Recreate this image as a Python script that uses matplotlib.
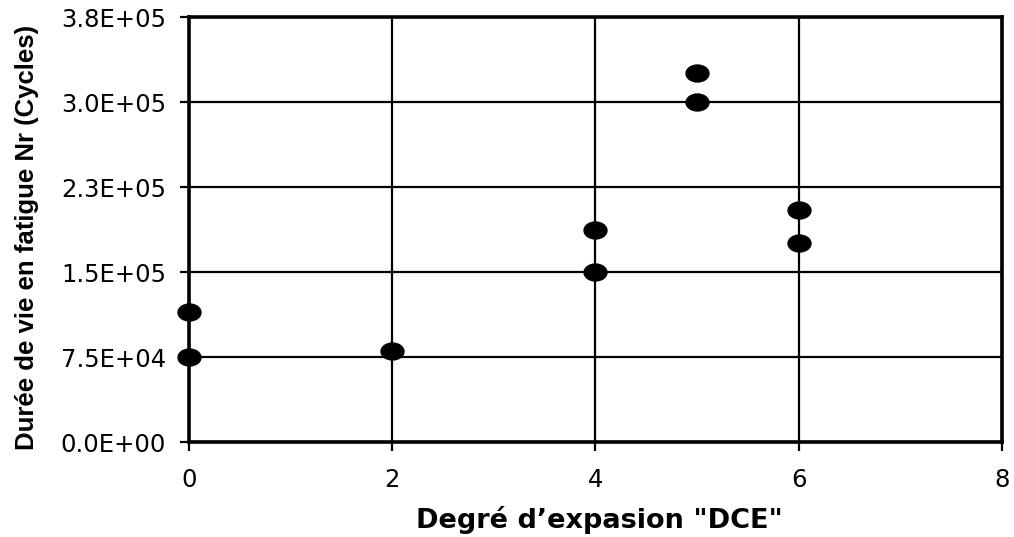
import matplotlib
matplotlib.use("Agg")
import matplotlib.pyplot as plt
from matplotlib.path import Path
from matplotlib.transforms import Affine2D

plt.rcParams['font.family'] = ['DejaVu Sans']

# Fatigue life measurements per expansion degree
dce = [0, 0, 2, 4, 4, 5, 5, 6, 6]
cycles = [115000, 75000, 80000, 187000, 150000, 326000, 300000, 205000, 176000]

x_ticks = [0, 2, 4, 6, 8]
y_ticks = [0, 75000, 150000, 225000, 300000, 375000]
y_tick_labels = ["0.0E+00", "7.5E+04", "1.5E+05", "2.3E+05", "3.0E+05", "3.8E+05"]

W, H = 1014, 537
fig = plt.figure(figsize=(W / 100, H / 100), dpi=100)
ax = fig.add_axes([0.1864, 0.1769, 0.988 - 0.1864, 0.9683 - 0.1769])

# flattened ellipse marker
ellipse = Path.unit_circle().transformed(Affine2D().scale(1.0, 0.74))

ax.scatter(dce, cycles, marker=ellipse, s=16.5 ** 2, color="black", zorder=3,
           clip_on=False)

ax.set_xlim(0, 8)
ax.set_ylim(0, 375000)
ax.set_xticks(x_ticks)
ax.set_yticks(y_ticks)
ax.set_yticklabels(y_tick_labels)
ax.grid(True, color="black", linewidth=1.6)
ax.set_axisbelow(True)

for side in ["left", "bottom", "top", "right"]:
    ax.spines[side].set_linewidth(2.6)
    ax.spines[side].set_color("black")

ax.tick_params(axis="both", direction="out", length=6.5, width=1.6,
               labelsize=17.5, colors="black")
ax.tick_params(axis="x", pad=12)
ax.tick_params(axis="y", pad=10)

fig.text(599.5 / W, 1 - 528 / H, "Degré d’expasion \"DCE\"", fontsize=19.5,
         fontweight="bold", ha="center", va="baseline")
fig.text(27 / W, 1 - 237.5 / H, "Durée de vie en fatigue Nr (Cycles)",
         fontsize=18.5, fontweight="bold", family=["Liberation Sans", "DejaVu Sans"],
         rotation=90, ha="center", va="center")

fig.savefig("out.png", dpi=100)
